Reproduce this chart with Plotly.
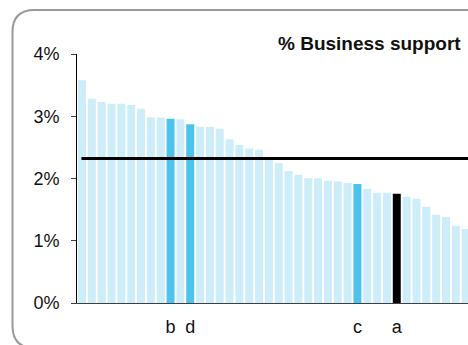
import plotly.graph_objects as go

# ---------------- data ----------------
positions = list(range(1, 41))
values = [3.58, 3.28, 3.23, 3.20, 3.20, 3.18, 3.12, 2.985, 2.98, 2.96,
          2.95, 2.87, 2.83, 2.83, 2.80, 2.63, 2.54, 2.48, 2.46, 2.31,
          2.25, 2.12, 2.06, 2.005, 2.005, 1.963, 1.95, 1.926, 1.91, 1.83,
          1.77, 1.77, 1.754, 1.706, 1.674, 1.546, 1.417, 1.38, 1.24, 1.19]
highlight_pos = [10, 12, 29, 33]
highlight_labels = ["b", "d", "c", "a"]
highlight_kind = ["blue", "blue", "blue", "black"]
average_value = 2.32
y_ticks = [0, 1, 2, 3, 4]
y_tick_labels = ["0%", "1%", "2%", "3%", "4%"]
title_text = "% Business support"

# ---------------- styles ----------------
LIGHT = "#CDEDF9"
BLUE = "#4BC3EC"
BLACK = "#000000"
FONT = "Liberation Sans, Arial, sans-serif"

colors = []
for p in positions:
    if p in highlight_pos:
        k = highlight_kind[highlight_pos.index(p)]
        colors.append(BLUE if k == "blue" else BLACK)
    else:
        colors.append(LIGHT)

W, H = 468, 345
ML, MR, MT, MB = 77, 0, 54, 42

fig = go.Figure()
fig.add_trace(go.Bar(x=positions, y=values, marker=dict(color=colors, line=dict(width=0)),
                     hoverinfo="skip"))

fig.add_shape(type="line", xref="x", yref="y", x0=0.94, x1=45,
              y0=average_value, y1=average_value, line=dict(color="black", width=3))

# rounded border (pixel geometry -> paper coords)
pw, ph = W - ML - MR, H - MT - MB
def px(xp):
    return (xp - ML) / pw
def py(yp):
    return (H - MB - yp) / ph
L, T, R, B, r = 12.5, 10, 490, 348, 22
path = (f"M {px(L + r)},{py(T)} L {px(R - r)},{py(T)} "
        f"Q {px(R)},{py(T)} {px(R)},{py(T + r)} L {px(R)},{py(B - r)} "
        f"Q {px(R)},{py(B)} {px(R - r)},{py(B)} L {px(L + r)},{py(B)} "
        f"Q {px(L)},{py(B)} {px(L)},{py(B - r)} L {px(L)},{py(T + r)} "
        f"Q {px(L)},{py(T)} {px(L + r)},{py(T)} Z")
fig.add_shape(type="path", xref="paper", yref="paper", path=path,
              line=dict(color="#9A9A9A", width=2), fillcolor="rgba(0,0,0,0)", layer="above")

fig.add_annotation(text=f"<b>{title_text}</b>", xref="paper", yref="paper",
                   x=px(463), y=py(44), xanchor="right", yanchor="middle", showarrow=False,
                   font=dict(family=FONT, size=19, color="#111111"))

fig.update_layout(
    width=W, height=H, autosize=False,
    margin=dict(l=ML, r=MR, t=MT, b=MB, pad=0),
    plot_bgcolor="white", paper_bgcolor="white",
    bargap=0.19, showlegend=False,
    font=dict(family=FONT, size=18, color="#111111"),
    xaxis=dict(range=[0.49, 40.24], tickvals=highlight_pos, ticktext=highlight_labels,
               showline=True, linecolor="#404040", linewidth=1, ticks="", showgrid=False,
               zeroline=False, tickfont=dict(size=18), ticklabelstandoff=7),
    yaxis=dict(range=[0, 4], tickvals=y_ticks, ticktext=y_tick_labels, showline=True,
               linecolor="black", linewidth=1, ticks="outside", ticklen=5, tickcolor="#404040",
               showgrid=False, zeroline=False, tickfont=dict(size=18), ticklabelstandoff=8),
)

fig.write_html("out.html", config={"displayModeBar": False},
               post_script="document.body.style.margin='0';")
